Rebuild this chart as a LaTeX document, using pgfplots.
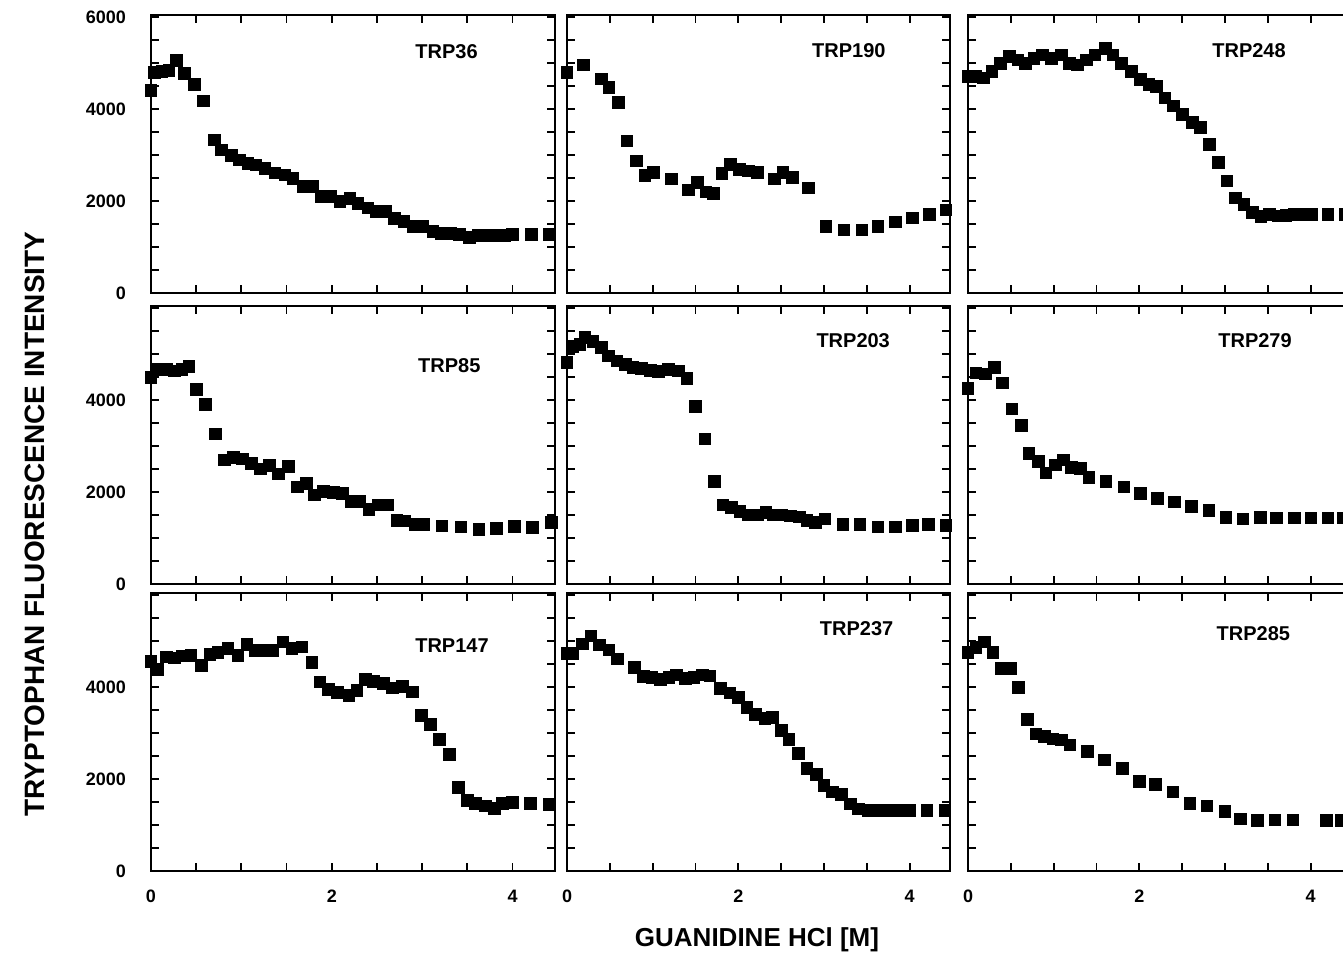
\documentclass[border=0pt]{standalone}
\usepackage{pgfplots}
\pgfplotsset{compat=1.18}
\usepackage{fontspec}
\setmainfont{Liberation Sans}

\pgfplotsset{
  panel/.style={
    scale only axis, height=139pt,
    xmin=0, xmax=4.47, ymin=0, ymax=6050,
    xtick={0,2,4}, minor xtick={0.5,1,1.5,2.5,3,3.5},
    ytick={0,2000,4000,6000}, minor ytick={500,1000,1500,2500,3000,3500,4500,5000,5500},
    tick align=inside, major tick length=4pt, minor tick length=4pt,
    tick style={black, line width=0.9pt},
    axis line style={line width=1.4pt},
    xticklabels={}, yticklabels={},
    tick label style={font=\bfseries\fontsize{9}{10}\selectfont},
    xticklabel style={yshift=-6pt},
    yticklabel style={xshift=-9pt},
    clip=false,
  },
  dots/.style={only marks, mark=square*, mark size=2.9pt, black},
}
\tikzset{lab/.style={font=\bfseries\fontsize{10}{12}\selectfont}}

\begin{document}
\begin{tikzpicture}

% row 1
\begin{axis}[panel, width=202pt, at={(75.5pt,-7.5pt)}, anchor=north west,
  yticklabels={0,2000,4000,6000}]
\addplot[dots] coordinates {
(0,4415)(0.04,4800)(0.12,4820)(0.20,4840)(0.28,5060)(0.37,4780)(0.48,4540)(0.58,4180)
(0.70,3330)(0.78,3110)(0.89,3000)(0.98,2900)(1.07,2820)(1.16,2790)(1.26,2710)(1.37,2610)
(1.48,2570)(1.57,2500)(1.68,2320)(1.79,2320)(1.88,2100)(1.99,2100)(2.09,1990)(2.20,2060)
(2.29,1950)(2.40,1850)(2.49,1770)(2.60,1770)(2.69,1630)(2.80,1560)(2.90,1450)(3.01,1450)
(3.12,1340)(3.21,1300)(3.32,1300)(3.41,1280)(3.52,1210)(3.62,1250)(3.73,1250)(3.82,1250)
(3.91,1260)(4.00,1270)(4.21,1280)(4.41,1280)};
\node[lab] at (axis cs:3.27,5245) {TRP36};
\end{axis}

\begin{axis}[panel, width=191.5pt, at={(283.5pt,-7.5pt)}, anchor=north west]
\addplot[dots] coordinates {
(0,4800)(0.19,4965)(0.40,4660)(0.49,4468)(0.60,4149)(0.70,3312)(0.81,2872)(0.91,2553)
(1.01,2624)(1.22,2482)(1.42,2248)(1.52,2411)(1.62,2199)(1.71,2163)(1.81,2603)(1.91,2801)
(2.01,2695)(2.12,2660)(2.22,2624)(2.42,2482)(2.52,2624)(2.63,2518)(2.82,2291)(3.02,1454)
(3.23,1369)(3.44,1369)(3.63,1454)(3.83,1546)(4.03,1631)(4.23,1716)(4.42,1809)};
\node[lab] at (axis cs:3.29,5267) {TRP190};
\end{axis}

\begin{axis}[panel, width=191.5pt, at={(484pt,-7.5pt)}, anchor=north west]
\addplot[dots] coordinates {
(0,4714)(0.09,4714)(0.18,4679)(0.28,4821)(0.38,5000)(0.48,5143)(0.58,5071)(0.67,5000)
(0.77,5107)(0.87,5179)(0.97,5107)(1.09,5179)(1.18,5000)(1.28,4964)(1.38,5071)(1.48,5179)
(1.60,5321)(1.69,5179)(1.79,5000)(1.91,4821)(2.01,4643)(2.11,4536)(2.20,4500)(2.30,4250)
(2.40,4071)(2.50,3893)(2.62,3714)(2.71,3607)(2.82,3236)(2.92,2836)(3.02,2443)(3.12,2071)
(3.22,1929)(3.32,1750)(3.42,1664)(3.52,1714)(3.62,1679)(3.71,1693)(3.81,1714)(3.91,1714)
(4.01,1714)(4.20,1714)(4.40,1714)};
\node[lab] at (axis cs:3.28,5267) {TRP248};
\end{axis}

% row 2
\begin{axis}[panel, width=202pt, at={(75.5pt,-153pt)}, anchor=north west,
  yticklabels={0,2000,4000,{}}]
\addplot[dots] coordinates {
(0,4496)(0.07,4672)(0.17,4672)(0.26,4642)(0.34,4672)(0.42,4730)(0.50,4234)(0.60,3905)
(0.71,3270)(0.81,2701)(0.91,2759)(1.01,2723)(1.11,2628)(1.21,2504)(1.31,2577)(1.41,2394)
(1.52,2555)(1.62,2117)(1.72,2190)(1.81,1942)(1.91,2015)(2.02,1993)(2.12,1971)(2.21,1796)
(2.31,1796)(2.41,1628)(2.51,1723)(2.62,1723)(2.72,1387)(2.81,1372)(2.92,1299)(3.02,1299)
(3.22,1263)(3.43,1241)(3.63,1190)(3.82,1204)(4.02,1248)(4.22,1226)(4.43,1336)};
\node[lab] at (axis cs:3.30,4744) {TRP85};
\end{axis}

\begin{axis}[panel, width=191.5pt, at={(283.5pt,-153pt)}, anchor=north west]
\addplot[dots] coordinates {
(0,4817)(0.07,5176)(0.15,5212)(0.21,5371)(0.30,5284)(0.40,5155)(0.48,4960)(0.58,4853)
(0.68,4781)(0.77,4709)(0.87,4694)(0.97,4651)(1.07,4622)(1.18,4673)(1.30,4637)(1.40,4471)
(1.50,3860)(1.61,3162)(1.72,2227)(1.82,1723)(1.92,1673)(2.02,1579)(2.12,1507)(2.22,1507)
(2.32,1558)(2.41,1507)(2.51,1507)(2.61,1486)(2.71,1457)(2.80,1385)(2.90,1342)(3.01,1414)
(3.22,1291)(3.42,1291)(3.63,1241)(3.83,1241)(4.03,1270)(4.22,1291)(4.42,1270)};
\node[lab] at (axis cs:3.34,5288) {TRP203};
\end{axis}

\begin{axis}[panel, width=191.5pt, at={(484pt,-153pt)}, anchor=north west]
\addplot[dots] coordinates {
(0,4257)(0.09,4593)(0.20,4571)(0.31,4714)(0.40,4379)(0.51,3807)(0.62,3450)(0.71,2843)
(0.82,2664)(0.91,2414)(1.02,2593)(1.11,2700)(1.21,2543)(1.31,2521)(1.41,2321)(1.61,2236)
(1.82,2114)(2.01,1971)(2.21,1864)(2.41,1786)(2.61,1686)(2.81,1607)(3.01,1450)(3.21,1414)
(3.41,1450)(3.60,1436)(3.81,1436)(4.00,1436)(4.20,1436)(4.38,1436)};
\node[lab] at (axis cs:3.35,5288) {TRP279};
\end{axis}

% row 3
\begin{axis}[panel, width=202pt, at={(75.5pt,-296.5pt)}, anchor=north west,
  yticklabels={0,2000,4000,{}}, xticklabels={0,2,4}]
\addplot[dots] coordinates {
(0,4565)(0.07,4391)(0.17,4659)(0.26,4638)(0.35,4681)(0.44,4696)(0.56,4478)(0.65,4710)
(0.74,4754)(0.85,4841)(0.96,4696)(1.06,4928)(1.15,4804)(1.24,4804)(1.35,4804)(1.46,4986)
(1.56,4841)(1.67,4877)(1.78,4536)(1.87,4116)(1.96,3957)(2.06,3884)(2.19,3826)(2.28,3935)
(2.37,4174)(2.46,4130)(2.57,4080)(2.67,3986)(2.78,4022)(2.89,3899)(2.99,3391)(3.09,3188)
(3.19,2870)(3.30,2536)(3.40,1819)(3.50,1543)(3.59,1471)(3.70,1413)(3.80,1362)(3.89,1471)
(4.00,1493)(4.20,1471)(4.41,1449)};
\node[lab] at (axis cs:3.33,4897) {TRP147};
\end{axis}

\begin{axis}[panel, width=191.5pt, at={(283.5pt,-296.5pt)}, anchor=north west,
  xticklabels={0,2,4}]
\addplot[dots] coordinates {
(0,4738)(0.07,4738)(0.18,4942)(0.28,5116)(0.38,4920)(0.49,4811)(0.59,4614)(0.79,4425)
(0.89,4229)(0.99,4214)(1.09,4170)(1.19,4214)(1.28,4265)(1.38,4192)(1.48,4214)(1.58,4265)
(1.67,4243)(1.79,3974)(1.90,3879)(2.00,3777)(2.10,3559)(2.20,3413)(2.31,3319)(2.40,3341)
(2.50,3064)(2.59,2860)(2.70,2555)(2.80,2227)(2.91,2103)(3.00,1863)(3.10,1718)(3.20,1667)
(3.31,1463)(3.40,1354)(3.51,1317)(3.61,1317)(3.71,1317)(3.81,1317)(3.90,1317)(4.00,1317)
(4.20,1317)(4.41,1317)};
\node[lab] at (axis cs:3.38,5267) {TRP237};
\end{axis}

\begin{axis}[panel, width=191.5pt, at={(484pt,-296.5pt)}, anchor=north west,
  xticklabels={0,2,4}]
\addplot[dots] coordinates {
(0,4762)(0.09,4872)(0.19,4982)(0.29,4762)(0.39,4410)(0.50,4410)(0.59,3993)(0.69,3297)
(0.79,2982)(0.89,2930)(0.99,2879)(1.09,2857)(1.19,2747)(1.39,2601)(1.59,2418)(1.80,2234)
(2.00,1956)(2.19,1883)(2.39,1722)(2.59,1465)(2.79,1414)(3.00,1297)(3.18,1136)(3.38,1099)
(3.58,1114)(3.79,1114)(4.18,1099)(4.35,1099)};
\node[lab] at (axis cs:3.33,5158) {TRP285};
\end{axis}

\node[rotate=90, font=\bfseries\fontsize{14}{16}\selectfont] at (17.5pt,-262pt)
  {TRYPTOPHAN FLUORESCENCE INTENSITY};
\node[font=\bfseries\fontsize{13}{15}\selectfont] at (378.5pt,-470pt)
  {GUANIDINE HCl [M]};

\pgfresetboundingbox
\path[use as bounding box] (0,0) rectangle (671.5pt,-476.5pt);
\end{tikzpicture}
\end{document}
